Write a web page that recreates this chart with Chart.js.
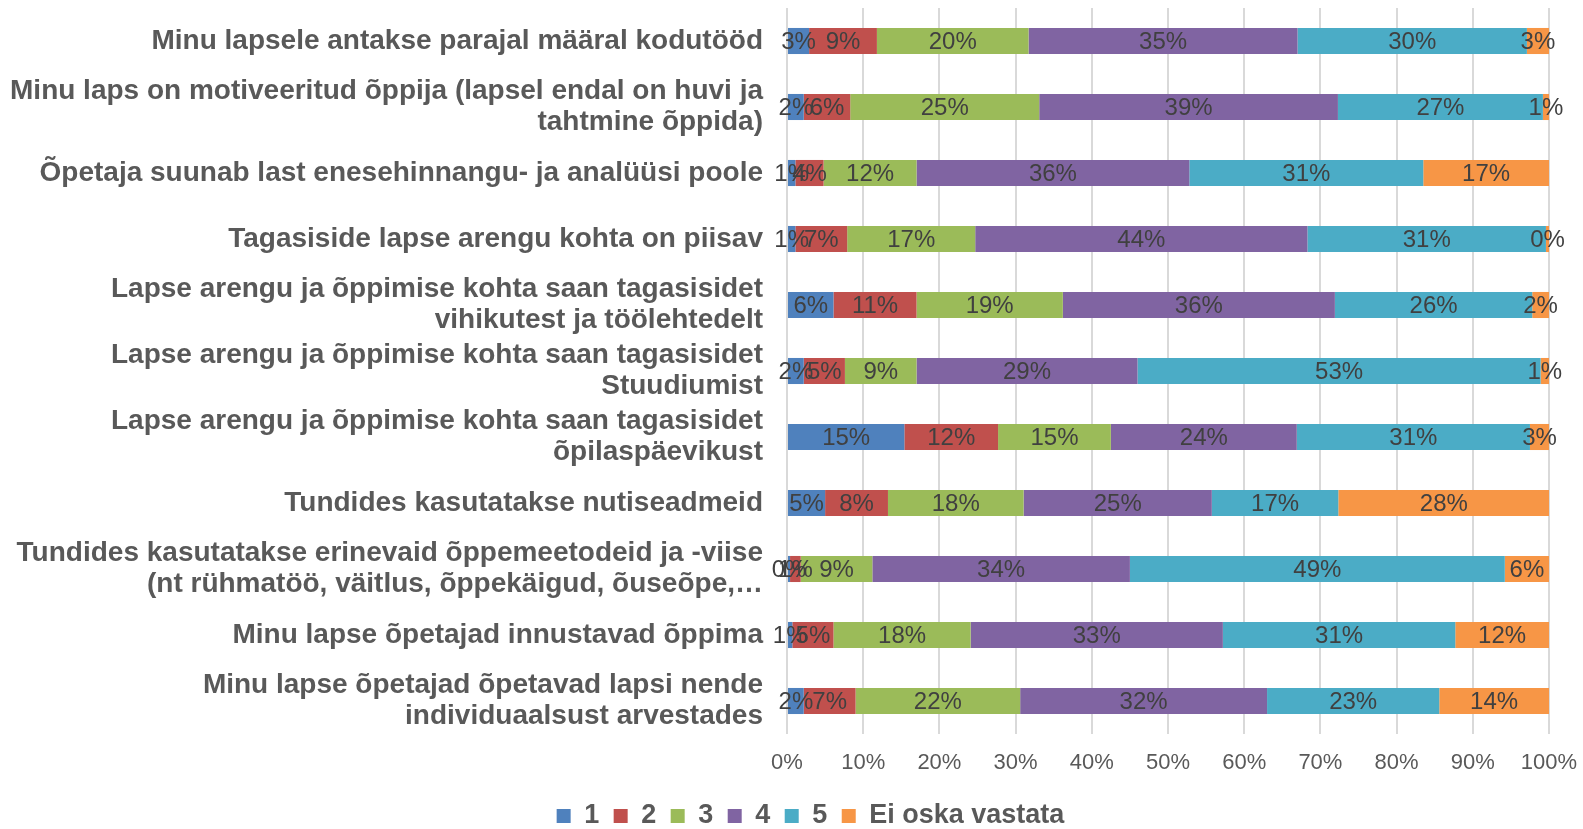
<!DOCTYPE html>
<html>
<head>
<meta charset="utf-8">
<script src="https://cdn.jsdelivr.net/npm/chart.js@4.4.1/dist/chart.umd.min.js"></script>
<style>
  body { margin: 0; background: #fff; }
  canvas { display: block; }
</style>
</head>
<body>
<canvas id="chart" width="1583" height="829"></canvas>
<script>
// ========================
// DATA
// ========================
const categories = [
  ['Minu lapsele antakse parajal määral kodutööd'],
  ['Minu laps on motiveeritud õppija (lapsel endal on huvi ja', 'tahtmine õppida)'],
  ['Õpetaja suunab last enesehinnangu- ja analüüsi poole'],
  ['Tagasiside lapse arengu kohta on piisav'],
  ['Lapse arengu ja õppimise kohta saan tagasisidet', 'vihikutest ja töölehtedelt'],
  ['Lapse arengu ja õppimise kohta saan tagasisidet', 'Stuudiumist'],
  ['Lapse arengu ja õppimise kohta saan tagasisidet', 'õpilaspäevikust'],
  ['Tundides kasutatakse nutiseadmeid'],
  ['Tundides kasutatakse erinevaid õppemeetodeid ja -viise', '(nt rühmatöö, väitlus, õppekäigud, õuseõpe,…'],
  ['Minu lapse õpetajad innustavad õppima'],
  ['Minu lapse õpetajad õpetavad lapsi nende', 'individuaalsust arvestades']
];

const seriesNames = ['1', '2', '3', '4', '5', 'Ei oska vastata'];
const seriesColors = ['#4F81BD', '#C0504D', '#9BBB59', '#8064A2', '#4BACC6', '#F79646'];

// share of answers, %
const vals1 = [2.9, 2.2, 1.1, 1.1, 6.1, 2.2, 15.4, 5.0, 0.4, 0.7, 2.2];
const vals2 = [8.9, 6.1, 3.7, 6.8, 10.9, 5.4, 12.3, 8.25, 1.4, 5.4, 6.8];
const vals3 = [19.9, 24.8, 12.2, 16.8, 19.2, 9.4, 14.8, 17.8, 9.4, 18.0, 21.6];
const vals4 = [35.3, 39.2, 35.8, 43.6, 35.7, 29.0, 24.4, 24.7, 33.8, 33.1, 32.4];
const vals5 = [30.1, 26.9, 30.7, 31.3, 25.9, 52.9, 30.6, 16.6, 49.2, 30.5, 22.6];
const valsEi = [2.9, 0.8, 16.5, 0.4, 2.2, 1.1, 2.5, 27.7, 5.8, 12.3, 14.4];

const xTicks = [0, 10, 20, 30, 40, 50, 60, 70, 80, 90, 100];

const allSeries = [vals1, vals2, vals3, vals4, vals5, valsEi];

const FONT = '"Liberation Sans", Arial, sans-serif';

// ========================
// BAR LABELS
// ========================
const barLabels = {
  id: 'barLabels',
  afterDatasetsDraw(chart) {
    const ctx = chart.ctx;
    ctx.save();
    ctx.font = '24px ' + FONT;
    ctx.fillStyle = '#404040';
    ctx.textAlign = 'center';
    ctx.textBaseline = 'middle';
    chart.data.datasets.forEach((ds, i) => {
      const meta = chart.getDatasetMeta(i);
      meta.data.forEach((bar, j) => {
        const v = ds.data[j];
        const cx = (bar.x + bar.base) / 2;
        ctx.fillText(Math.round(v) + '%', cx, bar.y + 1);
      });
    });
    ctx.restore();
  }
};

// legend sits a bit right of the canvas centre in the original
const legendShift = {
  id: 'legendShift',
  afterLayout(chart) {
    if (chart.legend) {
      chart.legend.left += 36;
      chart.legend.right += 36;
    }
  }
};

// ========================
// CHART
// ========================
const ctx = document.getElementById('chart').getContext('2d');
new Chart(ctx, {
  type: 'bar',
  data: {
    labels: categories,
    datasets: allSeries.map((d, i) => ({
      label: seriesNames[i],
      data: d,
      backgroundColor: seriesColors[i],
      barPercentage: 0.5,
      categoryPercentage: 0.79
    }))
  },
  options: {
    indexAxis: 'y',
    responsive: false,
    animation: false,
    layout: { padding: { top: 8, right: 34, left: 0, bottom: -10.5 } },
    plugins: {
      tooltip: { enabled: false },
      legend: {
        position: 'bottom',
        labels: {
          boxWidth: 14,
          boxHeight: 14,
          padding: 14.5,
          color: '#595959',
          font: { family: FONT, size: 27, weight: 'bold' }
        }
      }
    },
    scales: {
      x: {
        stacked: true,
        min: 0,
        max: 100,
        afterBuildTicks: (scale) => { scale.ticks = xTicks.map(v => ({ value: v })); },
        afterFit: (scale) => { scale.height = 54; scale.paddingLeft = 0; scale.paddingRight = 0; },
        grid: { color: '#D9D9D9', lineWidth: 2, drawTicks: false },
        border: { display: false },
        ticks: {
          color: '#595959',
          padding: 16,
          font: { family: FONT, size: 22 },
          callback: v => v + '%'
        }
      },
      y: {
        stacked: true,
        grid: { display: false },
        border: { display: false },
        afterFit: (scale) => { scale.width = 787; scale.paddingTop = 0; scale.paddingBottom = 0; },
        ticks: {
          autoSkip: false,
          color: '#595959',
          padding: 16,
          font: { family: FONT, size: 28, weight: 'bold', lineHeight: 1.12 }
        }
      }
    }
  },
  plugins: [barLabels, legendShift]
});
</script>
</body>
</html>
